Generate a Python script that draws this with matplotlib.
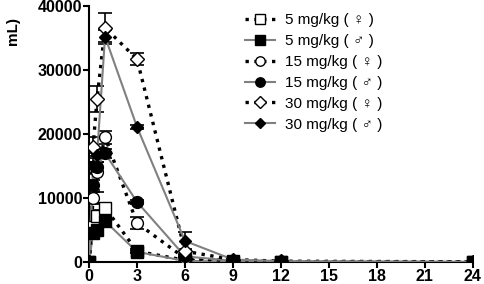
import matplotlib
matplotlib.use("Agg")
import matplotlib.pyplot as plt
import numpy as np

plt.rcParams['font.family'] = ['Liberation Sans', 'DejaVu Sans']

times = [0, 0.25, 0.5, 1, 3, 6, 9, 12, 24]
f5 = [0, 5500, 7200, 8500, 1700, 300, 100, 50, 0]
m5 = [0, 4500, 5000, 6400, 1600, 200, 80, 30, 0]
f15 = [0, 10000, 14000, 19500, 6100, 600, 200, 80, 0]
m15 = [0, 12000, 14800, 17000, 9400, 900, 200, 80, 0]
f30 = [0, 18000, 25500, 36600, 31700, 1700, 400, 150, 50]
m30 = [0, 15000, 16700, 35200, 21100, 3300, 400, 150, 50]

f5_err = [0, 500, 900, 800, 300, 100, 50, 30, 0]
m5_err = [0, 400, 600, 500, 200, 80, 40, 20, 0]
f15_err = [0, 1000, 3000, 1000, 1000, 150, 60, 30, 0]
m15_err = [0, 800, 900, 700, 300, 150, 60, 30, 0]
f30_err = [0, 1500, 2000, 2300, 900, 400, 100, 50, 20]
m30_err = [0, 1200, 1000, 1100, 300, 1400, 100, 50, 20]

labels = ['5 mg/kg ( ♀ )', '5 mg/kg ( ♂ )', '15 mg/kg ( ♀ )', '15 mg/kg ( ♂ )',
          '30 mg/kg ( ♀ )', '30 mg/kg ( ♂ )']
xticks = [0, 3, 6, 9, 12, 15, 18, 21, 24]
yticks = [0, 10000, 20000, 30000, 40000]

fig = plt.figure(figsize=(4.84, 2.84), dpi=100)
ax = fig.add_axes([0.184, 0.077, 0.793, 0.902])

series = [
    (f5, f5_err, 's', 'white', ':', 'black', 8.5),
    (m5, m5_err, 's', 'black', '-', '#808080', 8.5),
    (f15, f15_err, 'o', 'white', ':', 'black', 8.5),
    (m15, m15_err, 'o', 'black', '-', '#808080', 8.5),
    (f30, f30_err, 'D', 'white', ':', 'black', 7.5),
    (m30, m30_err, 'D', 'black', '-', '#808080', 6.5),
]
for (vals, err, mk, fc, ls, lc, ms), lab in zip(series, labels):
    ax.errorbar(times, vals, yerr=err, fmt='none', ecolor='black', elinewidth=1.2,
                capsize=5, capthick=1.2, zorder=2)
    lw = 2.4 if ls == ':' else 1.5
    ax.plot(times, vals, linestyle=ls, color=lc, linewidth=lw, zorder=3)
    ax.plot(times, vals, linestyle='none', marker=mk, markersize=ms,
            markerfacecolor=fc, markeredgecolor='black', markeredgewidth=1.0, zorder=4)
    ax.plot([], [], linestyle=ls, color=lc if ls == '-' else 'black', linewidth=lw,
            marker=mk, markersize=ms * 0.8, markerfacecolor=fc,
            markeredgecolor='black', label=lab)

ax.set_xlim(0, 24)
ax.set_ylim(0, 40000)
ax.set_xticks(xticks)
ax.set_yticks(yticks)
ax.set_xticklabels([str(t) for t in xticks], fontweight='bold', fontsize=11.5)
ax.set_yticklabels([str(t) for t in yticks], fontweight='bold', fontsize=11.5)
ax.tick_params(width=1.5, length=4, pad=1)
for s in ['top', 'right']:
    ax.spines[s].set_visible(False)
for s in ['left', 'bottom']:
    ax.spines[s].set_linewidth(1.5)

ax.legend(loc='upper left', bbox_to_anchor=(0.37, 1.025), frameon=False,
          fontsize=11, handlelength=2.0, handletextpad=0.6, labelspacing=0.45)

fig.text(0.012, 0.89, 'mL)', rotation=90, fontweight='bold', fontsize=11,
         ha='left', va='center')

fig.savefig('out.png', dpi=100)
